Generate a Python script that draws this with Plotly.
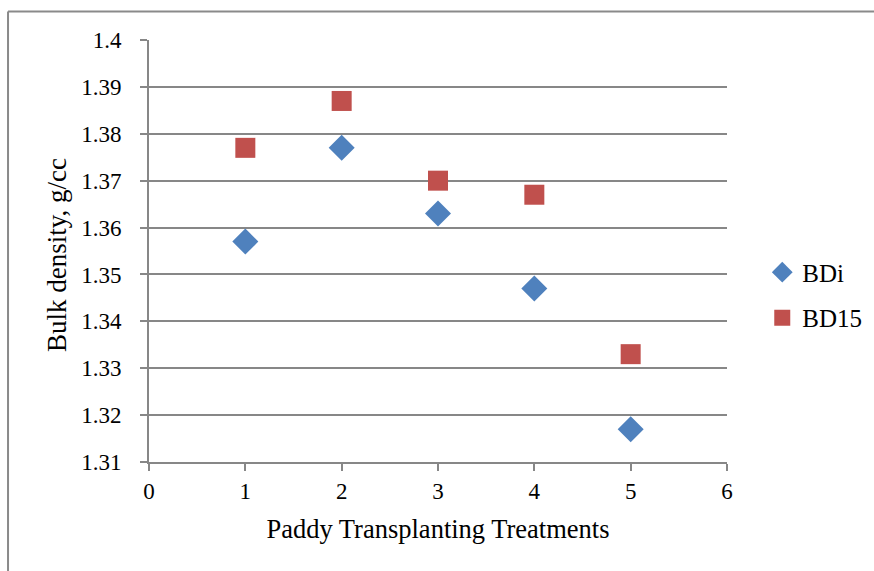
import plotly.graph_objects as go

treatments = [1, 2, 3, 4, 5]
bd_initial = [1.357, 1.377, 1.363, 1.347, 1.317]
bd_15 = [1.377, 1.387, 1.370, 1.367, 1.333]

x_ticks = [0, 1, 2, 3, 4, 5, 6]
y_ticks = [1.31, 1.32, 1.33, 1.34, 1.35, 1.36, 1.37, 1.38, 1.39, 1.40]
y_tick_text = ["1.31", "1.32", "1.33", "1.34", "1.35", "1.36", "1.37", "1.38", "1.39", "1.4"]

FONT = "Liberation Serif"
GRID = "#878787"

fig = go.Figure()
fig.add_trace(go.Scatter(
    x=treatments, y=bd_initial, mode="markers", name="BDi", legendgroup="a",
    marker=dict(symbol="diamond", size=20, color="#4F81BD"),
))
fig.add_trace(go.Scatter(
    x=treatments, y=bd_15, mode="markers", name="BD15", legendgroup="b",
    marker=dict(symbol="square", size=20, color="#C0504D"),
))

fig.update_layout(
    width=874, height=571,
    margin=dict(l=149, r=147, t=40, b=109, autoexpand=False),
    paper_bgcolor="white", plot_bgcolor="white",
    font=dict(family=FONT, size=23, color="black"),
    showlegend=True,
    legend=dict(x=1.061, y=0.396, xanchor="left", yanchor="middle",
                tracegroupgap=10, font=dict(size=25, family=FONT),
                itemwidth=30),
    xaxis=dict(
        range=[0, 6], tickvals=x_ticks, showgrid=False, zeroline=False,
        showline=True, linecolor=GRID, linewidth=2,
        ticks="outside", ticklen=7, tickcolor=GRID, tickwidth=2,
        tickfont=dict(size=23),
        title=dict(text="Paddy Transplanting Treatments", standoff=17,
                   font=dict(size=26.5)),
    ),
    yaxis=dict(
        range=[1.31, 1.40], tickvals=y_ticks, ticktext=y_tick_text,
        showgrid=True, gridcolor=GRID, gridwidth=2, zeroline=False,
        showline=True, linecolor=GRID, linewidth=2,
        ticks="outside", ticklen=7, tickcolor=GRID, tickwidth=2,
        tickfont=dict(size=23), ticklabelstandoff=14,
    ),
    annotations=[
        # vertical axis title
        dict(text="Bulk density, g/cc", textangle=-90, showarrow=False,
             xref="paper", yref="paper", x=-0.159, y=0.4905,
             xanchor="center", yanchor="middle",
             font=dict(size=27, family=FONT, color="black")),
    ],
    shapes=[
        # outer chart frame (top and left edges)
        dict(type="line", xref="paper", yref="paper",
             x0=-0.2439, x1=1.3, y0=1.0675, y1=1.0675,
             line=dict(color="#8a8a8a", width=2)),
        dict(type="line", xref="paper", yref="paper",
             x0=-0.2439, x1=-0.2439, y0=1.0675, y1=-0.35,
             line=dict(color="#8a8a8a", width=2)),
    ],
)

fig.write_html("out.html")
